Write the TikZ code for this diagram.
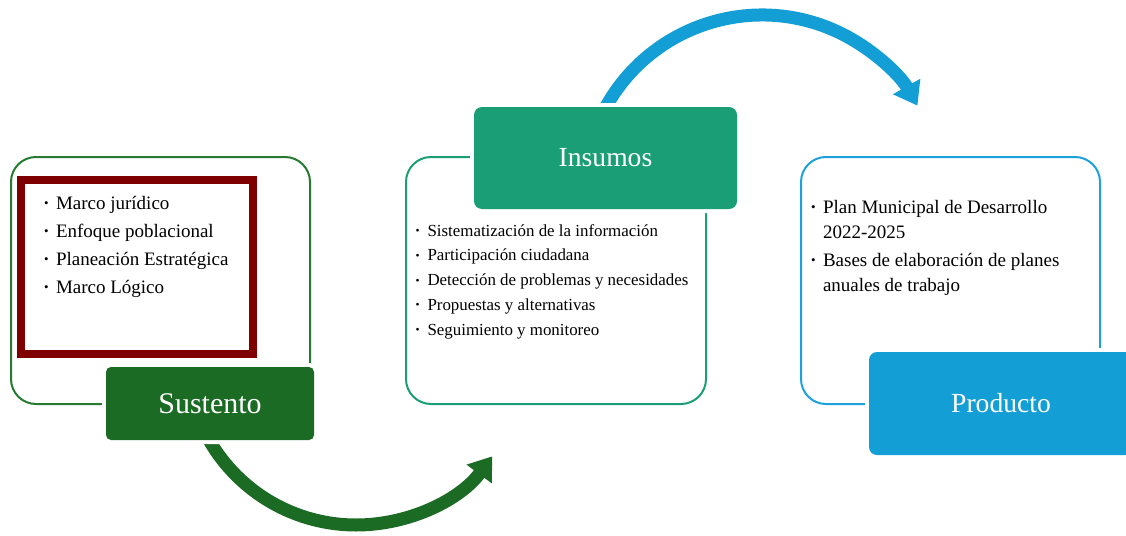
\documentclass[tikz,border=0pt]{standalone}
\usepackage{fontspec}
\setmainfont{Liberation Serif}
\usetikzlibrary{arrows.meta,calc}
\definecolor{sgreen}{HTML}{1B6B24}
\definecolor{sline}{HTML}{267A31}
\definecolor{dred}{HTML}{7F0000}
\definecolor{insg}{HTML}{1A9E75}
\definecolor{pblue}{HTML}{139FD6}
\definecolor{pline}{HTML}{1DA1DB}
\newcommand\bul{\makebox[12pt][l]{\raisebox{0.18ex}{\scalebox{0.68}{\textbullet}}}}
\begin{document}
\begin{tikzpicture}[x=1pt,y=-1pt,
  box/.style={inner sep=0pt, outer sep=0pt, anchor=north west},
  outerbox/.style={box, line width=2pt, rounded corners=25pt, draw=#1},
  hdr/.style={inner sep=0pt, outer sep=0pt, text=white, font=\fontsize{27.6}{30}\selectfont, preaction={draw=white, line width=8pt}},
  itemL/.style={anchor=base west, inner sep=0pt, outer sep=0pt, font=\fontsize{19}{22}\selectfont},
  itemI/.style={anchor=base west, inner sep=0pt, outer sep=0pt, font=\fontsize{16.9}{20}\selectfont},
  flow/.style={line width=13pt, -{Triangle[length=22pt,width=30pt]}},
]
\useasboundingbox (0,0) rectangle (1126,535);

% arrows (drawn first, header boxes cut their starts)
\coordinate (gc) at (356,355.5);
\coordinate (gs) at ($(gc)+(150:169.5)$);
\draw[flow, sgreen] (gs) arc[start angle=150, end angle=36.5, radius=169.5];
\coordinate (bc) at (762,193.6);
\coordinate (bs) at ($(bc)+(208:178.6)$);
\draw[flow, pblue] (bs) arc[start angle=208, end angle=330.5, radius=178.6];

% Sustento
\node[outerbox=sline, minimum width=299pt, minimum height=247pt] (sout) at (11,157) {};
\node[box, draw=dred, line width=8pt, minimum width=232pt, minimum height=174pt] (frame) at (21,180) {};
\node[itemL] (l1) at (44,209) {\bul Marco jurídico};
\node[itemL] (l2) at (44,237) {\bul Enfoque poblacional};
\node[itemL] (l3) at (44,265) {\bul Planeación Estratégica};
\node[itemL] (l4) at (44,293) {\bul Marco Lógico};
\node[hdr, fill=sgreen, rounded corners=5pt, minimum width=208pt, minimum height=73pt,
      font=\fontsize{30}{32}\selectfont] (sust) at (210,403.5) {Sustento};

% Insumos
\node[outerbox=insg, minimum width=300pt, minimum height=247pt] (iout) at (406,157) {};
\node[hdr, fill=insg, rounded corners=8pt, minimum width=263pt, minimum height=102pt] (ins) at (605.5,158) {Insumos};
\node[itemI] (i1) at (415.5,236) {\bul Sistematización de la información};
\node[itemI] (i2) at (415.5,260.75) {\bul Participación ciudadana};
\node[itemI] (i3) at (415.5,285.5) {\bul Detección de problemas y necesidades};
\node[itemI] (i4) at (415.5,310.25) {\bul Propuestas y alternativas};
\node[itemI] (i5) at (415.5,335) {\bul Seguimiento y monitoreo};

% Producto
\node[outerbox=pline, minimum width=299pt, minimum height=247pt] (pout) at (801,157) {};
\node[itemL] (p1) at (811,213) {\bul Plan Municipal de Desarrollo};
\node[itemL] (p1b) at (823,238) {2022-2025};
\node[itemL] (p2) at (811,266.5) {\bul Bases de elaboración de planes};
\node[itemL] (p2b) at (823,291) {anuales de trabajo};
\node[hdr, fill=pblue, rounded corners=8pt, minimum width=264pt, minimum height=103pt] (prod) at (1001,403.5) {Producto};
\end{tikzpicture}
\end{document}
